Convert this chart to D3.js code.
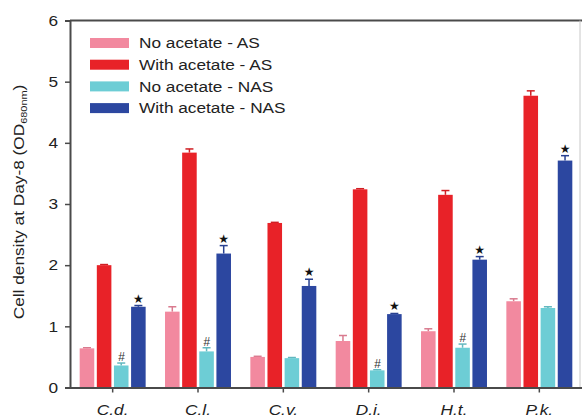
<!DOCTYPE html>
<html>
<head>
<meta charset="utf-8">
<script src="https://cdn.jsdelivr.net/npm/d3@7"></script>
<style>
  html, body { margin: 0; padding: 0; background: #fff; }
  svg { display: block; font-family: "Liberation Sans", Arial, sans-serif; }
</style>
</head>
<body>
<svg id="chart" width="582" height="418"></svg>
<script>
// Strains on the x axis
const categories = ["C.d.", "C.l.", "C.v.", "D.i.", "H.t.", "P.k."];

// Series names (legend order)
const seriesNames = ["No acetate - AS", "With acetate - AS", "No acetate - NAS", "With acetate - NAS"];
const seriesColors = ["#f2899f", "#e82228", "#6dcdd5", "#2c47a0"];

// Cell density (OD680nm) at day 8, mean values
const noAcetateAS     = [0.64, 1.24, 0.50, 0.76, 0.92, 1.41];
const withAcetateAS   = [2.00, 3.84, 2.69, 3.24, 3.15, 4.77];
const noAcetateNAS    = [0.36, 0.59, 0.48, 0.28, 0.65, 1.30];
const withAcetateNAS  = [1.32, 2.19, 1.66, 1.20, 2.09, 3.71];

// Upper error (SD)
const errNoAS    = [0.01, 0.08, 0.01, 0.09, 0.04, 0.04];
const errWithAS  = [0.01, 0.06, 0.01, 0.01, 0.07, 0.08];
const errNoNAS   = [0.04, 0.06, 0.01, 0.01, 0.06, 0.02];
const errWithNAS = [0.02, 0.13, 0.11, 0.01, 0.05, 0.08];

// Significance marks
const starMarks = [true, true, true, true, true, true];     // on "With acetate - NAS"
const hashMarks = [true, true, false, true, true, false];   // on "No acetate - NAS"

const yTicks = [0, 1, 2, 3, 4, 5, 6];

const values = [noAcetateAS, withAcetateAS, noAcetateNAS, withAcetateNAS];
const errors = [errNoAS, errWithAS, errNoNAS, errWithNAS];

const svg = d3.select("#chart");
const plotLeft = 70, plotRight = 582, plotTop = 20.5, plotBottom = 387.5;
const stretch = 1.15; // wide sans lettering

// widen a horizontal text element about its own x position
function widen(sel) {
  sel.each(function() {
    const t = d3.select(this);
    const ax = +t.attr("x") || 0;
    t.attr("transform", `translate(${ax},0) scale(${stretch},1) translate(${-ax},0)`);
  });
}

const x0 = d3.scaleBand().domain(categories).range([plotLeft, plotRight])
  .paddingInner(0.227).paddingOuter(0.1135);
const x1 = d3.scaleBand().domain(d3.range(4)).range([0, x0.bandwidth()]).paddingInner(0.15);
const y = d3.scaleLinear().domain([0, 6]).range([plotBottom, plotTop]);

const axisColor = "#4a4a4a";

// Frame (top and right)
svg.append("line").attr("x1", plotLeft).attr("x2", plotRight).attr("y1", plotTop).attr("y2", plotTop)
  .attr("stroke", axisColor).attr("stroke-width", 2);
svg.append("line").attr("x1", 580).attr("x2", 580).attr("y1", plotTop).attr("y2", plotBottom)
  .attr("stroke", "#c8c8c8").attr("stroke-width", 1);

// Flat records for bars
const rows = [];
categories.forEach((c, i) => {
  values.forEach((s, k) => rows.push({ cat: c, i, k, v: s[i], e: errors[k][i] }));
});

const g = svg.append("g");

// Error bars (upper only)
const capHalf = 4;
g.selectAll(".err").data(rows).join("g").attr("class", "err").each(function(d) {
  const cx = x0(d.cat) + x1(d.k) + x1.bandwidth() / 2;
  const sel = d3.select(this);
  const col = d3.color(seriesColors[d.k]).darker(0.3);
  sel.append("line").attr("x1", cx).attr("x2", cx).attr("y1", y(d.v)).attr("y2", y(d.v + d.e))
    .attr("stroke", col).attr("stroke-width", 1.5);
  sel.append("line").attr("x1", cx - capHalf).attr("x2", cx + capHalf)
    .attr("y1", y(d.v + d.e)).attr("y2", y(d.v + d.e))
    .attr("stroke", col).attr("stroke-width", 1.5);
});

// Bars
g.selectAll(".bar").data(rows).join("rect").attr("class", "bar")
  .attr("x", d => x0(d.cat) + x1(d.k))
  .attr("width", x1.bandwidth())
  .attr("y", d => y(d.v))
  .attr("height", d => y(0) - y(d.v))
  .attr("fill", d => seriesColors[d.k]);

// Significance markers
rows.filter(d => d.k === 3 && starMarks[d.i]).forEach(d => {
  const cx = x0(d.cat) + x1(d.k) + x1.bandwidth() / 2;
  g.append("text").attr("x", cx).attr("y", y(d.v + d.e) - 3)
    .attr("text-anchor", "middle").attr("font-size", 12).attr("fill", "#111")
    .attr("font-family", "DejaVu Sans")
    .text("★");
});
rows.filter(d => d.k === 2 && hashMarks[d.i]).forEach(d => {
  const cx = x0(d.cat) + x1(d.k) + x1.bandwidth() / 2;
  g.append("text").attr("x", cx).attr("y", y(d.v + d.e) - 2)
    .attr("text-anchor", "middle").attr("font-size", 12).attr("fill", "#333")
    .attr("font-style", "italic")
    .text("#");
});

// Y axis
const yAxis = svg.append("g").attr("transform", `translate(${plotLeft},0)`)
  .call(d3.axisLeft(y).tickValues(yTicks).tickFormat(d3.format("d")).tickSize(5).tickPadding(7));
yAxis.select(".domain").attr("stroke", axisColor).attr("stroke-width", 2);
yAxis.selectAll(".tick line").attr("stroke", axisColor).attr("stroke-width", 1.5);
yAxis.selectAll(".tick text").attr("font-size", 15).attr("fill", "#222")
  .attr("font-family", "Liberation Sans, Arial, sans-serif").call(widen);

// X axis
const xAxis = svg.append("g").attr("transform", `translate(0,${plotBottom})`)
  .call(d3.axisBottom(x0).tickSize(5).tickPadding(12).tickSizeOuter(0));
xAxis.select(".domain").attr("stroke", axisColor).attr("stroke-width", 2);
xAxis.selectAll(".tick line").attr("stroke", axisColor).attr("stroke-width", 1.5);
xAxis.selectAll(".tick text").attr("font-size", 15).attr("font-style", "italic").attr("fill", "#222")
  .attr("font-family", "Liberation Sans, Arial, sans-serif").call(widen);

// Y axis title with subscript
const yt = svg.append("text")
  .attr("transform", `translate(24,202) rotate(-90) scale(${stretch},1)`)
  .attr("text-anchor", "middle").attr("font-size", 15).attr("fill", "#222");
yt.append("tspan").text("Cell density at Day-8 (OD");
yt.append("tspan").attr("font-size", 9.5).attr("dy", 3).text("680nm");
yt.append("tspan").attr("dy", -3).text(")");

// Legend
const legend = svg.append("g").attr("transform", "translate(90,43)");
seriesNames.forEach((name, k) => {
  const row = legend.append("g").attr("transform", `translate(0,${k * 21.7})`);
  row.append("rect").attr("x", 0).attr("y", -5).attr("width", 39).attr("height", 10)
    .attr("fill", seriesColors[k]);
  row.append("text").attr("x", 49).attr("y", 0).attr("dy", "0.35em")
    .attr("font-size", 15).attr("fill", "#222").text(name).call(widen);
});
</script>
</body>
</html>
